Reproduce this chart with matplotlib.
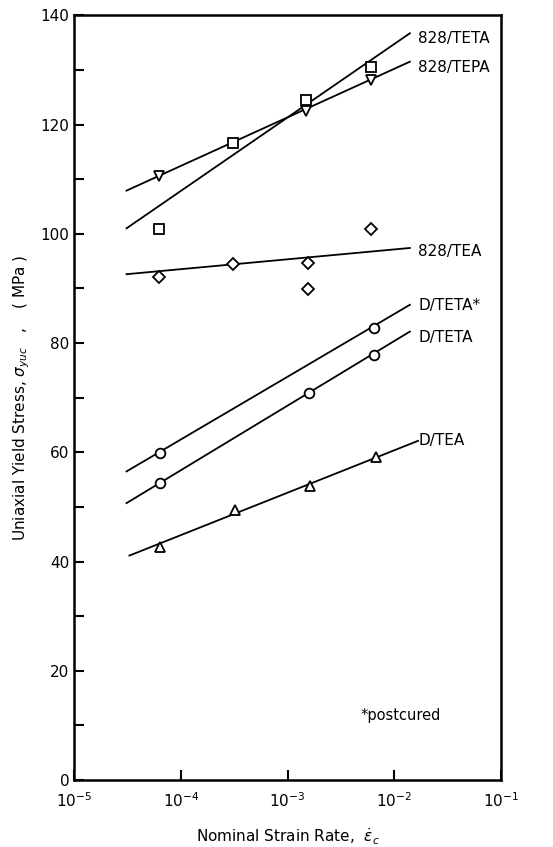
import matplotlib
matplotlib.use("Agg")
import matplotlib.pyplot as plt
import numpy as np

plt.rcParams['font.family'] = ['DejaVu Sans']
plt.rcParams['mathtext.fontset'] = 'dejavusans'

# measured points
teta828_x = [6.2e-5, 3.1e-4, 1.5e-3, 6.0e-3]
teta828_y = [100.9, 116.7, 124.4, 130.6]
tepa828_x = [6.2e-5, 1.5e-3, 6.0e-3]
tepa828_y = [110.5, 122.4, 128.1]
tea828_x = [6.2e-5, 3.1e-4, 1.55e-3, 1.55e-3, 6.0e-3]
tea828_y = [92.1, 94.5, 94.7, 89.9, 100.9]
dtetapc_x = [6.4e-5, 6.4e-3]
dtetapc_y = [59.9, 82.7]
dteta_x = [6.4e-5, 1.59e-3, 6.4e-3]
dteta_y = [54.3, 70.9, 77.9]
dtea_x = [6.4e-5, 3.2e-4, 1.64e-3, 6.7e-3]
dtea_y = [42.7, 49.4, 53.8, 59.1]

# fitted lines (end points)
fit_x = [3.1e-5, 1.4e-2]
teta828_fit = [101.0, 136.7]
tepa828_fit = [107.9, 131.5]
tea828_fit = [92.6, 97.4]
dtetapc_fit = [56.5, 87.0]
dteta_fit = [50.7, 82.1]
dtea_fit_x = [3.3e-5, 1.67e-2]
dtea_fit = [41.1, 62.1]

labels = ['828/TETA', '828/TEPA', '828/TEA', 'D/TETA*', 'D/TETA', 'D/TEA']
label_y = [135.8, 130.5, 96.7, 86.9, 81.1, 62.2]

fig = plt.figure(figsize=(5.53, 8.47), dpi=100)
ax = fig.add_axes([0.134, 0.079, 0.772, 0.903])

lw = 1.3
for y in [teta828_fit, tepa828_fit, tea828_fit, dtetapc_fit, dteta_fit]:
    ax.plot(fit_x, y, color='black', lw=lw)
ax.plot(dtea_fit_x, dtea_fit, color='black', lw=lw)

mk = dict(linestyle='none', mfc='white', mec='black', mew=1.3, zorder=3)
ax.plot(teta828_x, teta828_y, marker='s', ms=7, **mk)
ax.plot(tepa828_x, tepa828_y, marker='v', ms=7.5, **mk)
ax.plot(tea828_x, tea828_y, marker='D', ms=6.5, **mk)
ax.plot(dtetapc_x, dtetapc_y, marker='o', ms=7, **mk)
ax.plot(dteta_x, dteta_y, marker='o', ms=7, **mk)
ax.plot(dtea_x, dtea_y, marker='^', ms=7.5, **mk)

for lab, yy in zip(labels, label_y):
    ax.text(1.68e-2, yy, lab, fontsize=11, va='center', ha='left')

ax.text(4.8e-3, 11.8, '*postcured', fontsize=10.5, va='center', ha='left')

ax.set_xscale('log')
ax.set_xlim(1e-5, 1e-1)
ax.set_ylim(0, 140)
ax.set_yticks(np.arange(0, 141, 20))
ax.set_yticks(np.arange(10, 140, 20), minor=True)
ax.set_xticks([1e-5, 1e-4, 1e-3, 1e-2, 1e-1])
ax.xaxis.set_minor_locator(matplotlib.ticker.NullLocator())
ax.tick_params(axis='both', which='both', direction='in', length=7, width=1.5,
               labelsize=11, top=False, right=False)
ax.tick_params(axis='x', pad=8)
for s in ax.spines.values():
    s.set_linewidth(1.8)

ax.set_ylabel(r'Uniaxial Yield Stress, $\sigma_{yuc}$   ,    ( MPa )', fontsize=11, labelpad=6)
ax.set_xlabel(r'Nominal Strain Rate,  $\dot{\varepsilon}_c$', fontsize=11, labelpad=12)

fig.savefig('out.png', dpi=100)
